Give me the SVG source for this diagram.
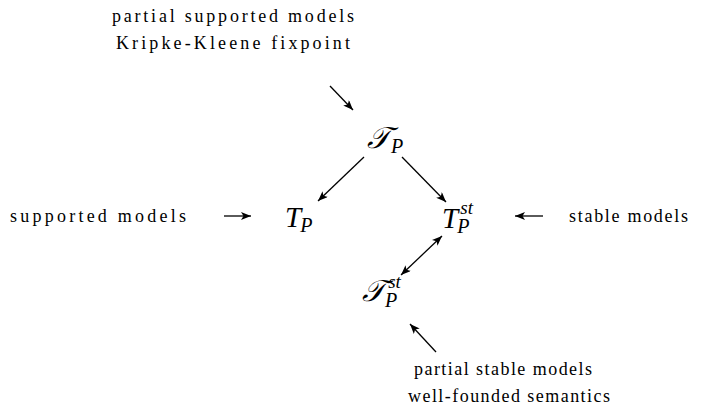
<svg xmlns="http://www.w3.org/2000/svg" width="702" height="409" viewBox="0 0 702 409">
<defs>
<marker id="ah" viewBox="0 0 10 8" refX="10" refY="4" markerWidth="10" markerHeight="8" markerUnits="userSpaceOnUse" orient="auto-start-reverse">
<path d="M0,0 L10,4 L0,8 L2.5,4 Z" fill="#000"/>
</marker>
</defs>
<style>
.lbl{font-family:"Liberation Serif","DejaVu Serif",serif;font-size:18px;fill:#000}
.m{font-family:"Liberation Serif","DejaVu Serif",serif;font-style:italic;fill:#000}
.c{stroke:#000;stroke-width:1.3;fill:none;marker-end:url(#ah)}
</style>
<rect width="702" height="409" fill="#fff"/>
<g id="lbl-partial-supported">
<text class="lbl" x="233" y="22" text-anchor="middle" textLength="242">partial supported models</text>
<text class="lbl" x="233" y="49" text-anchor="middle" textLength="234">Kripke-Kleene fixpoint</text>
</g>
<g id="node-calTP">
<text class="m" x="367" y="148" font-size="30">𝒯<tspan dx="1" dy="5" font-size="20">P</tspan></text>
</g>
<g id="lbl-supported">
<text class="lbl" x="10" y="222" textLength="176">supported models</text>
</g>
<g id="node-TP">
<text class="m" x="285" y="227" font-size="29">T<tspan dx="-1" dy="5" font-size="20">P</tspan></text>
</g>
<g id="node-TPst">
<text class="m" x="442" y="228" font-size="29">T<tspan dx="-1" dy="5" font-size="20">P</tspan><tspan dx="-9" dy="-19" font-size="19">st</tspan></text>
</g>
<g id="lbl-stable">
<text class="lbl" x="569" y="222" textLength="119">stable models</text>
</g>
<g id="node-calTPst">
<text class="m" x="362" y="301" font-size="30">𝒯<tspan dx="0" dy="6" font-size="20">P</tspan><tspan dx="-9" dy="-19" font-size="19">st</tspan></text>
</g>
<g id="lbl-partial-stable">
<text class="lbl" x="503" y="375" text-anchor="middle" textLength="178">partial stable models</text>
<text class="lbl" x="509" y="402" text-anchor="middle" textLength="202">well-founded semantics</text>
</g>
<g id="connectors">
<line class="c" x1="330" y1="86" x2="353" y2="110"/>
<line class="c" x1="364" y1="157" x2="318" y2="201"/>
<line class="c" x1="402" y1="157" x2="446" y2="202"/>
<line class="c" x1="224" y1="216" x2="251" y2="216"/>
<line class="c" x1="543" y1="216" x2="515" y2="216"/>
<line class="c" x1="401" y1="275" x2="442" y2="236" style="marker-start:url(#ah)"/>
<line class="c" x1="436" y1="352" x2="410" y2="324"/>
</g>
</svg>
